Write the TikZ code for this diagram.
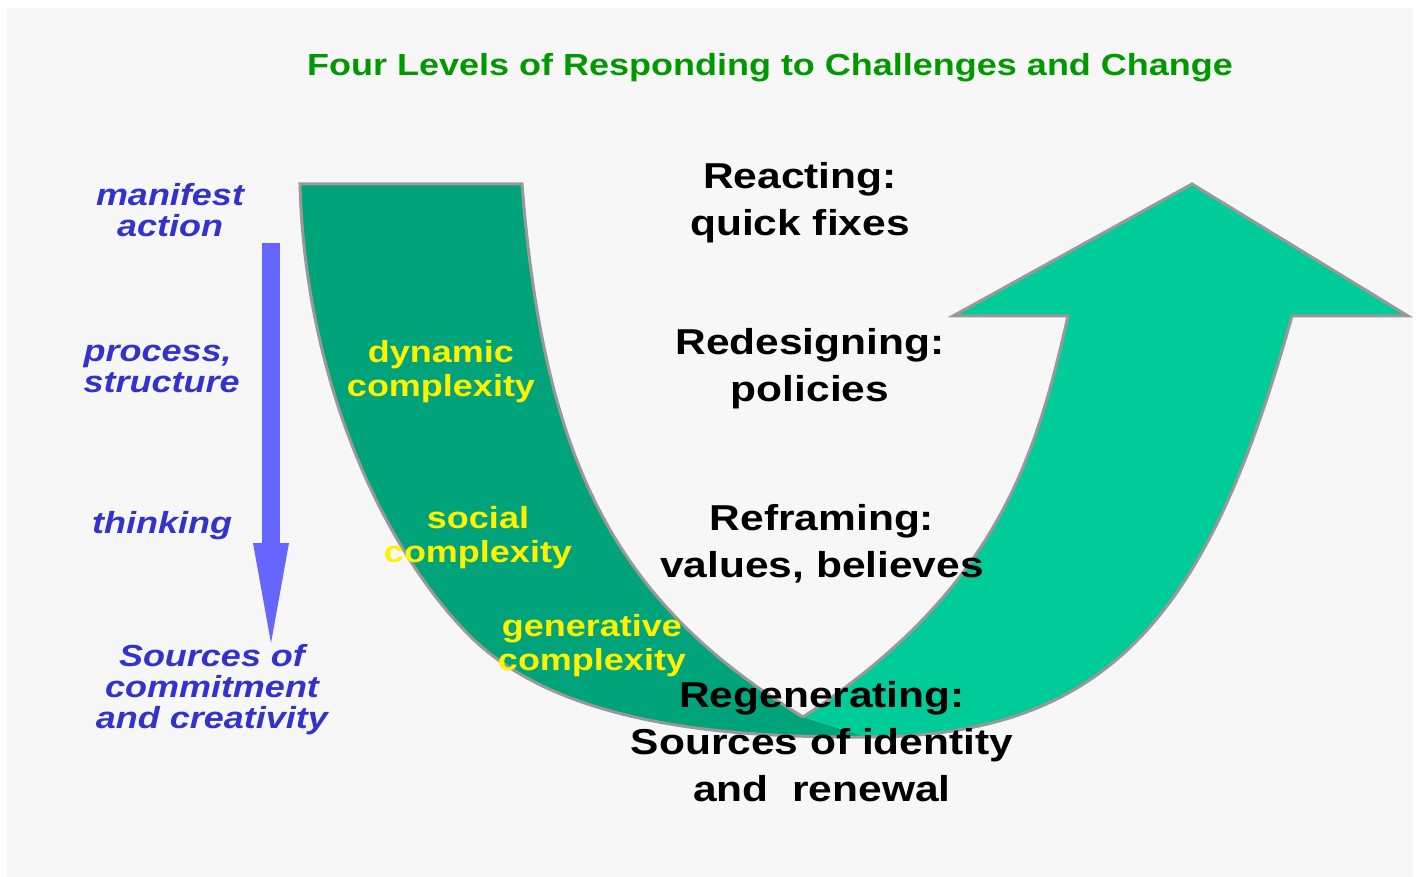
\documentclass[tikz,border=0pt]{standalone}
\usepackage{fontspec}
\setmainfont{Liberation Sans}[FakeStretch=1.18]
\usetikzlibrary{arrows.meta}

\definecolor{titlegreen}{RGB}{0,153,0}
\definecolor{bandgreen}{RGB}{0,163,122}
\definecolor{risegreen}{RGB}{0,204,153}
\definecolor{edgegray}{RGB}{153,153,153}
\definecolor{leveltext}{RGB}{51,51,204}
\definecolor{flowblue}{RGB}{102,102,255}
\definecolor{panelgray}{RGB}{247,247,247}

\begin{document}
\begin{tikzpicture}[x=1pt,y=-1pt,
    stage/.style={font=\bfseries\fontsize{36}{47}\selectfont, align=center},
    level/.style={font=\bfseries\itshape\fontsize{30.5}{31}\selectfont, text=leveltext, align=center},
    kind/.style={font=\bfseries\fontsize{30.5}{34}\selectfont, text=yellow, align=center},
    band/.style={draw=edgegray, line width=3pt, line join=miter}]
    \useasboundingbox (0,0) rectangle (1419,877);
    \fill[panelgray] (7,8) rectangle (1413,877);

    % Title
    \node[font=\bfseries\fontsize{30.5}{36}\selectfont, text=titlegreen] (title) at (770,68)
        {Four Levels of Responding to Challenges and Change};

    % Descending part of the U (dark band), left open at the bottom seam
    \filldraw[band, fill=bandgreen]
        (867,737) .. controls (740,737.5) and (560,729) .. (467,633)
        .. controls (383,547) and (305,380) .. (300,184)
        -- (522,184) .. controls (544,464) and (616,603) .. (803,717);

    % Rising arrow
    \filldraw[band, fill=risegreen]
        (803,717) .. controls (996,590) and (1035,461) .. (1068,316)
        -- (953,316) -- (1192,184) -- (1408,316) -- (1292,316)
        .. controls (1211,604) and (1117,737) .. (867,737);

    % Levels on the left
    \node[level] (manifest) at (170,210) {manifest\\action};
    \node[level, align=left, anchor=west] (process) at (80,369) {process,\\structure};
    \node[level] (thinking) at (162,526) {thinking};
    \node[level] (sources) at (212,690) {Sources of\\commitment\\and creativity};

    \coordinate (flowtop) at (271,243);
    \coordinate (flowtip) at (271,643);
    \draw[flowblue, line width=18pt, -{Triangle[width=36pt,length=100pt,line width=0pt]}] (flowtop) -- (flowtip);

    % Kinds of complexity inside the band
    \node[kind] (dynamic) at (441,372) {dynamic\\complexity};
    \node[kind] (social) at (478,538) {social\\complexity};
    \node[kind] (generative) at (592,646) {generative\\complexity};

    % Four ways of responding
    \node[stage] (reacting) at (800,203) {Reacting:\\quick fixes};
    \node[stage] (redesigning) at (810,369) {Redesigning:\\policies};
    \node[stage] (reframing) at (822,544) {Reframing:\\values, believes};
    \node[stage] (regenerating) at (822,742) {Regenerating:\\Sources of identity\\and\ \ renewal};
\end{tikzpicture}
\end{document}
